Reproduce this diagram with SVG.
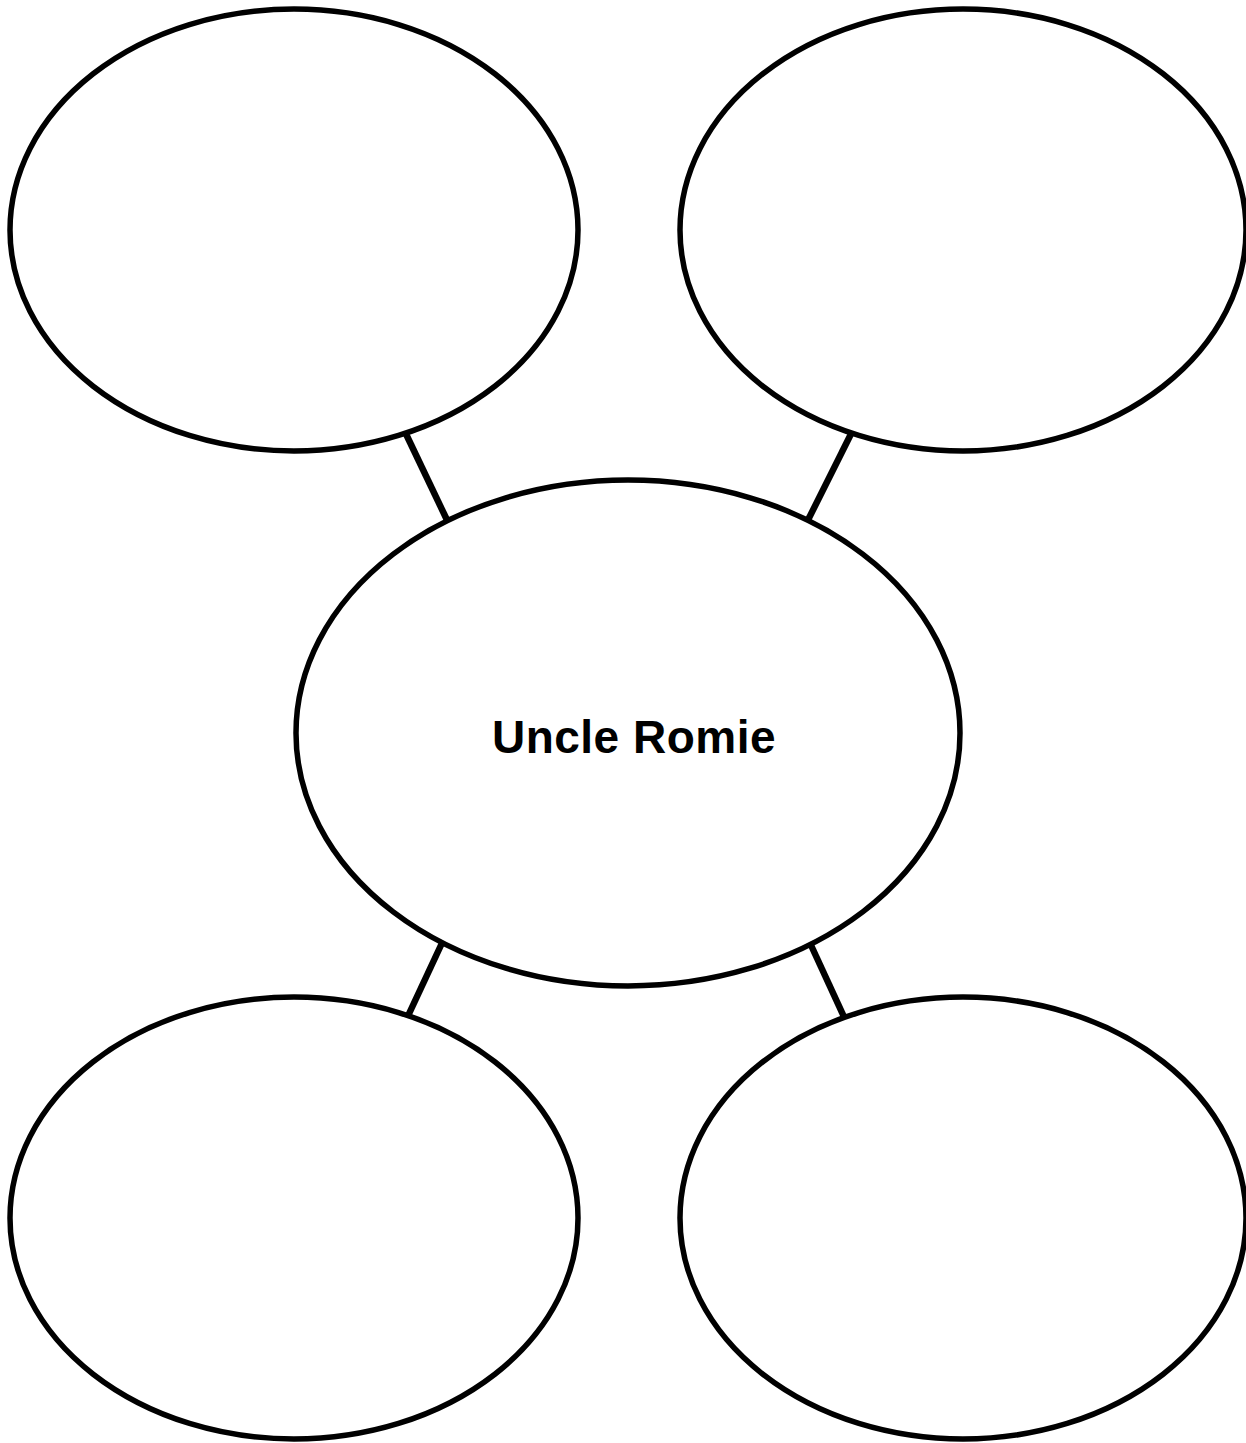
<svg xmlns="http://www.w3.org/2000/svg" width="1246" height="1443" viewBox="0 0 1246 1443">
<style>
.node{fill:#fff;stroke:#000;stroke-width:5.5}
.conn{stroke:#000;stroke-width:6.5;fill:none}
.lbl{font-family:"Liberation Sans",Arial,sans-serif;font-weight:bold;font-size:46px;letter-spacing:0.5px;fill:#000;text-anchor:middle}
</style>
<rect width="1246" height="1443" fill="#fff"/>
<g id="connectors">
<line class="conn" x1="406" y1="434" x2="447" y2="520"/>
<line class="conn" x1="851" y1="434" x2="808" y2="520"/>
<line class="conn" x1="442" y1="943" x2="407" y2="1018"/>
<line class="conn" x1="810" y1="943" x2="845" y2="1019"/>
</g>
<g id="top-left"><ellipse class="node" cx="294" cy="230" rx="284" ry="221"/></g>
<g id="top-right"><ellipse class="node" cx="963" cy="230" rx="283" ry="221"/></g>
<g id="center"><ellipse class="node" cx="628" cy="733" rx="332" ry="253"/><text class="lbl" x="634" y="753">Uncle Romie</text></g>
<g id="bottom-left"><ellipse class="node" cx="294" cy="1218" rx="284" ry="221"/></g>
<g id="bottom-right"><ellipse class="node" cx="963" cy="1218" rx="283" ry="221"/></g>
</svg>
